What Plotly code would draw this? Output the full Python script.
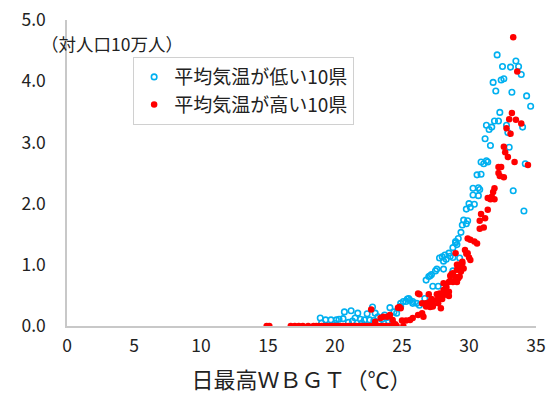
import plotly.graph_objects as go

# 平均気温が低い10県 (hollow blue circles)
low_x = [18.9, 19.3, 19.7, 20.3, 20.6, 20.7, 21.2, 21.5, 21.7, 21.9, 22.2, 22.4, 22.6, 22.8, 23.0, 23.2,
         23.5, 23.7, 23.9, 24.1, 24.4, 24.6, 24.9, 24.9, 25.1, 25.4, 25.6, 25.8, 25.5, 25.3, 25.8, 26.1,
         26.3, 26.7, 19.0, 20.0, 21.0, 22.0, 23.3, 24.3, 20.1, 21.3, 22.9, 24.0,
         26.8, 27.1, 27.2, 27.0, 27.3, 27.7, 27.5, 27.6, 28.1, 28.8, 27.8, 28.0, 28.2, 28.5, 28.1, 28.3,
         28.6, 28.8, 29.3, 28.8, 29.0, 29.0, 29.1, 29.2, 29.4, 29.5, 29.6, 29.8, 29.9, 29.8, 30.0, 30.1,
         30.4, 30.3, 30.3, 30.7, 30.7, 30.8, 30.6, 30.9, 30.9, 31.1, 31.3, 31.4, 31.2, 31.6, 31.3, 31.5,
         31.7, 31.9, 32.2, 32.3, 32.0, 31.8, 32.4, 32.6, 32.1, 32.5, 33.1, 33.5, 33.7, 33.9, 33.2, 34.3,
         34.6, 32.8, 34.0, 32.9, 33.0, 34.2, 33.3, 34.1]
low_y = [0.13, 0.10, 0.10, 0.11, 0.12, 0.23, 0.25, 0.13, 0.21, 0.11, 0.10, 0.20, 0.10, 0.31, 0.21, 0.15,
         0.11, 0.18, 0.14, 0.30, 0.23, 0.21, 0.37, 0.32, 0.40, 0.44, 0.42, 0.37, 0.45, 0.40, 0.40, 0.37,
         0.34, 0.45, 0.05, 0.04, 0.06, 0.05, 0.05, 0.06, 0.10, 0.08, 0.09, 0.08,
         0.75, 0.82, 0.84, 0.81, 0.65, 0.65, 0.90, 0.93, 0.93, 0.90, 1.11, 1.13, 1.16, 1.19, 1.06, 1.09,
         1.14, 1.12, 1.11, 1.28, 1.36, 1.38, 1.33, 1.43, 1.53, 1.65, 1.73, 1.67, 1.72, 1.91, 2.00, 1.94,
         1.99, 2.14, 2.25, 2.13, 2.26, 2.23, 2.47, 2.48, 2.68, 2.65, 2.70, 2.68, 3.06, 2.95, 3.28, 3.21,
         3.25, 3.35, 3.35, 3.49, 3.84, 3.98, 4.02, 4.04, 4.43, 4.24, 4.23, 4.33, 4.24, 4.11, 3.82, 3.76,
         3.59, 3.28, 3.25, 3.16, 2.92, 2.65, 2.21, 1.88]

# 平均気温が高い10県 (filled red circles)
high_x = [14.9, 15.1, 16.7, 17.0, 17.3, 17.6, 18.0, 18.4, 18.6, 18.8, 19.0, 19.2, 19.4, 19.6, 19.8, 20.0,
          20.2, 20.4, 20.6, 20.8, 21.0, 21.2, 21.4, 21.6, 21.8, 22.0, 22.2, 22.4, 22.6, 22.8, 23.0, 23.2,
          23.4, 23.6, 23.8, 24.0, 24.2, 24.6, 25.1,
          22.7, 23.0, 23.4, 23.6, 23.9, 24.1, 24.3, 24.5, 24.7, 24.8, 24.9, 25.0, 25.3, 25.6, 25.8, 26.2,
          26.5, 26.6, 26.2, 26.3, 26.5, 26.8, 27.1, 27.3, 26.8, 27.1, 27.3, 27.3, 27.2, 27.0, 27.7, 27.7,
          27.7, 27.9, 28.0, 27.6, 27.8, 27.8, 28.1, 28.1, 28.2, 28.5, 28.3, 28.3, 28.5, 28.1, 28.5, 28.6,
          28.8, 29.0, 29.2, 29.1, 28.7, 28.6, 28.8, 29.0, 29.3, 29.1, 29.4, 29.3, 29.2, 29.1, 29.5, 29.5,
          29.6, 29.0, 29.7, 29.8, 29.9, 30.0, 30.1, 29.9, 30.1, 30.4, 30.6, 30.8, 31.1, 30.8, 31.2, 30.9,
          31.4, 31.4, 31.6, 31.7, 31.9, 31.8, 31.9, 32.2, 32.3, 32.6, 32.2, 32.4, 32.6, 32.7, 32.9, 33.4,
          34.4, 32.8, 33.1, 33.0, 33.5, 33.9, 33.2, 33.6, 33.3]
high_y = [0.0, 0.0, 0.0, 0.0, 0.0, 0.0, 0.0, 0.0, 0.0, 0.0, 0.0, 0.0, 0.0, 0.0, 0.0, 0.0,
          0.0, 0.0, 0.0, 0.0, 0.0, 0.0, 0.0, 0.0, 0.0, 0.0, 0.0, 0.0, 0.0, 0.0, 0.0, 0.0,
          0.0, 0.0, 0.0, 0.0, 0.0, 0.0, 0.0,
          0.27, 0.07, 0.13, 0.15, 0.15, 0.18, 0.10, 0.03, 0.30, 0.31, 0.29, 0.09, 0.09, 0.10, 0.13, 0.18,
          0.21, 0.15, 0.53, 0.52, 0.37, 0.37, 0.40, 0.42, 0.32, 0.31, 0.32, 0.34, 0.44, 0.52, 0.42, 0.45,
          0.37, 0.29, 0.44, 0.52, 0.51, 0.53, 0.53, 0.59, 0.51, 0.49, 0.64, 0.63, 0.56, 0.70, 0.72, 0.74,
          0.72, 0.75, 0.78, 0.72, 0.85, 0.82, 0.86, 0.80, 0.81, 0.92, 0.89, 0.92, 1.00, 1.00, 1.02, 1.05,
          0.94, 1.19, 1.24, 1.18, 1.19, 1.12, 1.08, 1.43, 1.41, 1.38, 1.35, 1.59, 1.61, 1.72, 1.76, 1.83,
          1.90, 2.09, 2.07, 2.11, 2.07, 2.19, 2.25, 2.50, 2.45, 2.43, 2.60, 2.60, 2.93, 2.84, 2.76, 2.68,
          2.63, 3.23, 3.14, 3.38, 3.37, 3.31, 3.48, 4.16, 4.72]

x_ticks = [0, 5, 10, 15, 20, 25, 30, 35]
y_ticks = [0.0, 1.0, 2.0, 3.0, 4.0, 5.0]

series_names = ["平均気温が低い10県", "平均気温が高い10県"]
x_title = "日最高ＷＢＧＴ（℃）"
y_unit = "（対人口10万人）"

FONT = "Noto Sans CJK JP"

fig = go.Figure()
fig.add_trace(go.Scatter(
    x=low_x, y=low_y, mode="markers", name=series_names[0],
    marker=dict(symbol="circle-open", size=5.5, color="#00B0F0", line=dict(width=1.6, color="#00B0F0")),
))
fig.add_trace(go.Scatter(
    x=high_x, y=high_y, mode="markers", name=series_names[1],
    marker=dict(symbol="circle", size=6.5, color="#FF0000"),
))

axis_line = "#C8C8C8"
fig.update_layout(
    width=554, height=394,
    margin=dict(l=67, r=18, t=20, b=68, autoexpand=False),
    paper_bgcolor="white", plot_bgcolor="white",
    font=dict(family=FONT, color="#222222"),
    showlegend=True,
    legend=dict(
        x=0.141, y=0.879, xanchor="left", yanchor="top",
        bgcolor="white", bordercolor="#D0D0D0", borderwidth=1,
        font=dict(family=FONT, size=19, color="#222222"),
        itemwidth=30, tracegroupgap=4,
    ),
    xaxis=dict(
        range=[0, 35], tickvals=x_ticks, showgrid=False, zeroline=False, automargin=False,
        showline=True, linecolor=axis_line, linewidth=1.5, ticklabeloverflow="allow",
        ticks="", ticklabelstandoff=3, tickfont=dict(family=FONT, size=17.5, color="#222222"),
        title=dict(text=x_title, font=dict(family=FONT, size=22, color="#222222"), standoff=20),
    ),
    yaxis=dict(
        range=[0, 5], tickvals=y_ticks, tickformat=".1f", showgrid=False, zeroline=False, automargin=False,
        showline=True, linecolor=axis_line, linewidth=1.5, ticklabeloverflow="allow",
        ticks="", ticklabelstandoff=16, tickfont=dict(family=FONT, size=17.5, color="#222222"),
    ),
    annotations=[dict(
        text=y_unit, xref="paper", yref="paper", x=-0.06, y=0.922,
        xanchor="left", yanchor="middle", showarrow=False,
        font=dict(family=FONT, size=17.5, color="#222222"),
    )],
)

# Remove the browser's default 8px body margin so the figure fills the window exactly.
fig.write_html(
    "out.html",
    config={"displayModeBar": False},
    post_script="document.body.style.margin='0px';",
)
